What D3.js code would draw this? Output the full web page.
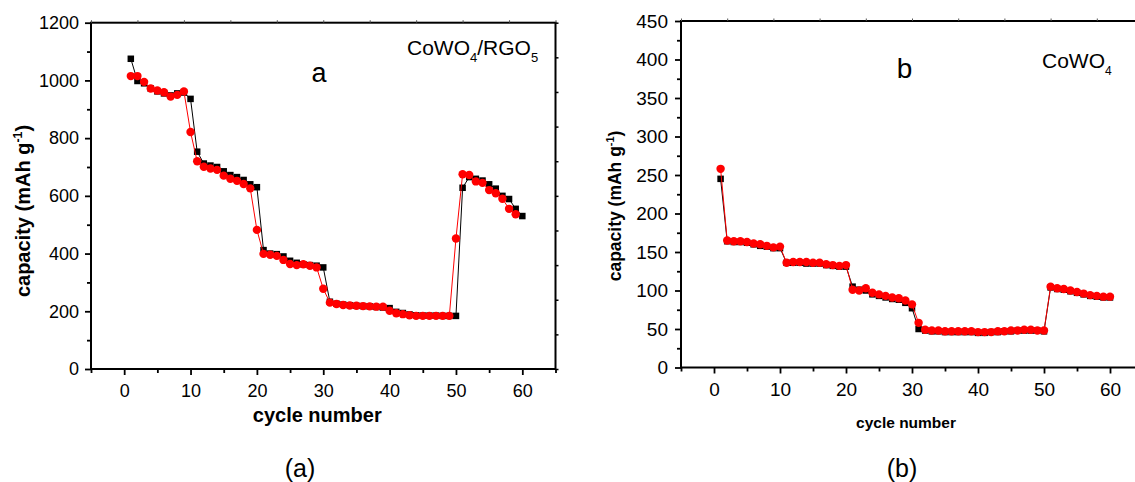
<!DOCTYPE html>
<html>
<head>
<meta charset="utf-8">
<script src="https://cdn.jsdelivr.net/npm/d3@7"></script>
<style>
  body { margin: 0; padding: 0; background: #fff; }
  svg { display: block; }
  text { font-family: "Liberation Sans", Arial, sans-serif; fill: #000; }
</style>
</head>
<body>
<div id="main"></div>
<script>
// cycle numbers shared by both panels
const cycles = [1,2,3,4,5,6,7,8,9,10,11,12,13,14,15,16,17,18,19,20,
  21,22,23,24,25,26,27,28,29,30,31,32,33,34,35,36,37,38,39,40,
  41,42,43,44,45,46,47,48,49,50,51,52,53,54,55,56,57,58,59,60];

// panel (a) CoWO4/RGO5
const capA_black = [1075,998,990,972,962,955,948,955,958,936,
  753,712,705,700,685,672,665,655,640,630,
  412,400,398,390,375,368,363,360,358,352,
  233,226,223,221,219,218,217,215,213,211,
  198,194,189,186,185,185,185,184,184,184,
  628,665,659,653,640,625,600,589,555,530];
const capA_red = [1015,1015,995,972,965,959,944,950,962,821,
  720,701,695,690,670,659,652,641,626,482,
  399,396,392,378,364,360,363,358,352,278,
  230,225,222,220,219,218,217,216,216,202,
  193,190,186,184,184,184,184,184,184,452,
  675,672,650,645,620,609,590,555,536];

// panel (b) CoWO4
const capB_black = [245,164,163,163,162,160,158,157,155,155,
  136,136,136,135,135,135,133,132,131,131,
  105,101,100,95,93,91,89,88,84,77,
  50,48,47,47,46,46,46,46,46,45,
  45,46,46,47,47,48,48,48,48,47,
  104,102,101,99,97,95,93,92,91,91];
const capB_red = [258,165,164,164,163,161,160,158,156,157,
  136,137,137,137,136,136,134,133,132,133,
  101,100,103,97,95,93,91,90,87,82,
  58,49,48,48,47,47,47,47,47,46,
  46,46,47,47,48,48,49,49,48,48,
  105,103,102,100,98,96,94,93,92,92];

const xTicksMajor = [0,10,20,30,40,50,60];
const xTicksMinor = [-5,5,15,25,35,45,55,65];
const yTicksA = [0,200,400,600,800,1000,1200];
const yTicksAMinor = [100,300,500,700,900,1100];
const yTicksB = [0,50,100,150,200,250,300,350,400,450];
const yTicksBMinor = [25,75,125,175,225,275,325,375,425];

const W = 1135, H = 482;
const svg = d3.select('#main').append('svg').attr('width', W).attr('height', H);

const drawPanel = (opts) => {
  const { x, y, yMajor, yMinor, black, red, yFont, xFont, yPad,
          xTitleSize, xTitleY, yTitleSize, yTitleX, yTitleY, r, sq } = opts;
  const g = svg.append('g');
  const [x0, x1] = x.range();
  const [yb, yt] = y.range();

  // frame
  g.append('rect').attr('x', x0).attr('y', yt).attr('width', x1 - x0).attr('height', yb - yt)
    .attr('fill', 'none').attr('stroke', '#000').attr('stroke-width', 2);

  // small mirror ticks on top and right (10 divisions)
  const topDiv = d3.scaleLinear().domain([0, 10]).range([x0, x1]);
  const rightDiv = d3.scaleLinear().domain([0, 10]).range([yb, yt]);
  g.append('g').attr('transform', `translate(0,${yt})`)
    .call(d3.axisTop(topDiv).ticks(10).tickSize(2.5).tickFormat(''))
    .call(s => s.select('.domain').remove())
    .selectAll('line').attr('stroke', '#555').attr('stroke-width', 1);
  g.append('g').attr('transform', `translate(${x1},0)`)
    .call(d3.axisRight(rightDiv).ticks(10).tickSize(3).tickFormat(''))
    .call(s => s.select('.domain').remove())
    .selectAll('line').attr('stroke', '#000').attr('stroke-width', 1.5);

  // bottom axis
  const bx = g.append('g').attr('transform', `translate(0,${yb})`)
    .call(d3.axisBottom(x).tickValues(xTicksMajor).tickSize(6).tickPadding(9).tickFormat(d3.format('d')));
  bx.select('.domain').remove();
  bx.selectAll('line').attr('stroke-width', 1.8);
  bx.selectAll('text').attr('font-size', xFont).attr('font-family', '"Liberation Sans", Arial, sans-serif');
  g.append('g').attr('transform', `translate(0,${yb})`)
    .call(d3.axisBottom(x).tickValues(xTicksMinor).tickSize(4).tickFormat(''))
    .call(s => s.select('.domain').remove())
    .selectAll('line').attr('stroke-width', 1.8);

  // left axis
  const ly = g.append('g').attr('transform', `translate(${x0},0)`)
    .call(d3.axisLeft(y).tickValues(yMajor).tickSize(6).tickPadding(yPad).tickFormat(d3.format('d')));
  ly.select('.domain').remove();
  ly.selectAll('line').attr('stroke-width', 1.8);
  ly.selectAll('text').attr('font-size', yFont).attr('font-family', '"Liberation Sans", Arial, sans-serif');
  g.append('g').attr('transform', `translate(${x0},0)`)
    .call(d3.axisLeft(y).tickValues(yMinor).tickSize(4).tickFormat(''))
    .call(s => s.select('.domain').remove())
    .selectAll('line').attr('stroke-width', 1.8);

  // axis titles
  g.append('text').attr('x', (x0 + x1) / 2 - 6).attr('y', xTitleY)
    .attr('text-anchor', 'middle').attr('font-weight', 'bold').attr('font-size', xTitleSize)
    .text('cycle number');
  const yt_ = g.append('text').attr('transform', `translate(${yTitleX},${yTitleY}) rotate(-90)`)
    .attr('text-anchor', 'middle').attr('font-weight', 'bold').attr('font-size', yTitleSize);
  yt_.append('tspan').text('capacity (mAh g');
  yt_.append('tspan').attr('font-size', yTitleSize * 0.62).attr('dy', -yTitleSize * 0.4).text('-1');
  yt_.append('tspan').attr('dy', yTitleSize * 0.4).text(')');

  // series: black squares, then red circles on top
  const line = d3.line().x((d, i) => x(cycles[i])).y(d => y(d));
  g.append('path').datum(black).attr('d', line).attr('fill', 'none').attr('stroke', '#000').attr('stroke-width', 1);
  g.selectAll('rect.sq').data(black).enter().append('rect').attr('class', 'sq')
    .attr('x', (d, i) => x(cycles[i]) - sq / 2).attr('y', d => y(d) - sq / 2)
    .attr('width', sq).attr('height', sq).attr('fill', '#000');
  g.append('path').datum(red).attr('d', line).attr('fill', 'none').attr('stroke', '#ff0000').attr('stroke-width', 1);
  g.selectAll('circle.rd').data(red).enter().append('circle').attr('class', 'rd')
    .attr('cx', (d, i) => x(cycles[i])).attr('cy', d => y(d)).attr('r', r).attr('fill', '#ff0000');
  return g;
};

// panel a
const xA = d3.scaleLinear().domain([-5, 65]).range([91, 555.5]);
const yA = d3.scaleLinear().domain([0, 1200]).range([369, 22.7]);
const gA = drawPanel({ x: xA, y: yA, yMajor: yTicksA, yMinor: yTicksAMinor, black: capA_black, red: capA_red,
  yFont: 18, xFont: 18, yPad: 6, xTitleSize: 20, xTitleY: 422, yTitleSize: 20, yTitleX: 30, yTitleY: 211, r: 4.2, sq: 6.5 });

// panel b
const xB = d3.scaleLinear().domain([-5, 65]).range([681, 1143]);
const yB = d3.scaleLinear().domain([0, 450]).range([367.5, 21]);
const gB = drawPanel({ x: xB, y: yB, yMajor: yTicksB, yMinor: yTicksBMinor, black: capB_black, red: capB_red,
  yFont: 19, xFont: 19, yPad: 7, xTitleSize: 15.5, xTitleY: 428, yTitleSize: 17.5, yTitleX: 621, yTitleY: 206, r: 4.2, sq: 6.5 });

// annotations
gA.append('text').attr('x', 319).attr('y', 82).attr('text-anchor', 'middle').attr('font-size', 27).text('a');
const labA = gA.append('text').attr('x', 407).attr('y', 55).attr('font-size', 21);
labA.append('tspan').text('CoWO');
labA.append('tspan').attr('font-size', 13).attr('dy', 6.5).text('4');
labA.append('tspan').attr('dy', -6.5).text('/RGO');
labA.append('tspan').attr('font-size', 13).attr('dy', 6.5).text('5');

gB.append('text').attr('x', 904.5).attr('y', 78).attr('text-anchor', 'middle').attr('font-size', 28).text('b');
const labB = gB.append('text').attr('x', 1042).attr('y', 68).attr('font-size', 21);
labB.append('tspan').text('CoWO');
labB.append('tspan').attr('font-size', 12).attr('dy', 7).text('4');

// panel captions
svg.append('text').attr('x', 300).attr('y', 477).attr('text-anchor', 'middle')
  .attr('font-family', '"Open Sans", sans-serif').attr('font-size', 25).text('(a)');
svg.append('text').attr('x', 902).attr('y', 477).attr('text-anchor', 'middle')
  .attr('font-family', '"Open Sans", sans-serif').attr('font-size', 25).text('(b)');
</script>
</body>
</html>
